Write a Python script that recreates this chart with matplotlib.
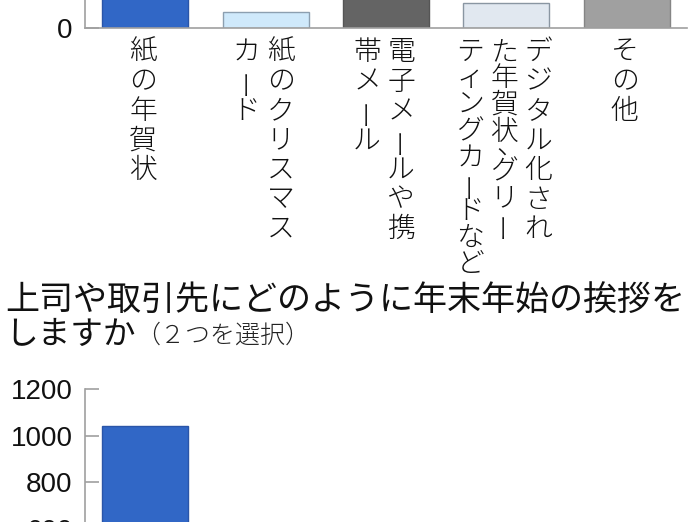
import matplotlib
matplotlib.use('Agg')
import matplotlib.pyplot as plt

plt.rcParams['font.family'] = ['Noto Sans CJK JP', 'DejaVu Sans']

# data
categories = ['紙の年賀状', '紙のクリスマスカード', '電子メールや携帯メール',
              'デジタル化された年賀状、グリーティングカードなど', 'その他']
# vertical label columns (right to left)
label_cols = [['紙の年賀状'],
              ['紙のクリスマス', 'カード'],
              ['電子メールや携', '帯メール'],
              ['デジタル化され', 'た年賀状、グリー', 'ティングカードなど'],
              ['その他']]
top_values = [1100, 70, 650, 108, 250]      # upper chart (only the bottom is visible)
bottom_values = [1040, 40, 520, 90, 150]    # lower chart (only the first bar is visible)
yticks = [0, 200, 400, 600, 800, 1000, 1200]

title2_line1 = '上司や取引先にどのように年末年始の挨拶を'
title2_line2 = 'しますか'
title2_note = '（２つを選択）'

colors = ['#3167c6', '#cfe9fb', '#646464', '#e1e8f0', '#a0a0a0']
edges = ['#2a55a8', '#8c9fb0', '#555555', '#8a96a2', '#858585']

W, H = 696, 522
fig = plt.figure(figsize=(W / 100, H / 100), dpi=100)


def px_box(left, bottom_from_top, width, height):
    # axes box given in pixels measured from the top-left corner
    return [left / W, (H - bottom_from_top) / H, width / W, height / H]


def style_axes(ax):
    for s in ['top', 'right']:
        ax.spines[s].set_visible(False)
    for s in ['left', 'bottom']:
        ax.spines[s].set_color('#a0a0a0')
        ax.spines[s].set_linewidth(1.2)
    ax.set_xlim(-0.5, len(categories) - 0.5)
    ax.set_ylim(0, 1200)
    ax.set_yticks(yticks)
    ax.tick_params(axis='y', direction='in', length=10, width=1.2, color='#a0a0a0',
                   pad=9, labelsize=20, labelcolor='#111111')
    ax.tick_params(axis='x', length=0, labelbottom=False)
    for lbl in ax.get_yticklabels():
        lbl.set_family('Liberation Sans')


def vertical_labels(ax):
    px = 0.72  # points per pixel at dpi 100
    for i, cols in enumerate(label_cols):
        n = len(cols)
        for k, col in enumerate(cols):
            dx = ((n - 1) / 2 - k) * 34 - 2
            pitch = 29.5 if len(col) <= 7 else 26.5
            y = -24
            for ch in col:
                rot = 0
                ox, oy = 0, 0
                step = pitch
                if ch == 'ー':
                    rot = 90
                if ch == '、':
                    # comma sits high and right in vertical writing, takes little room
                    y += pitch - 15
                    ox, oy = 6, 0
                    step = 25
                ax.annotate(ch, xy=(i, 0), xycoords=('data', 'axes fraction'),
                            xytext=((dx + ox) * px, (y + oy) * px), textcoords='offset points',
                            ha='center', va='center', fontsize=20, rotation=rot,
                            fontweight='light', color='#111111', annotation_clip=False)
                y -= step


x = list(range(len(categories)))

# upper chart: its zero line sits near the top of the picture
ax1 = fig.add_axes(px_box(85, 28, 602, 280))
ax1.bar(x, top_values, width=0.715, color=colors, edgecolor=edges, linewidth=1)
style_axes(ax1)
vertical_labels(ax1)

# lower chart: its top sits near the bottom of the picture
ax2 = fig.add_axes(px_box(85, 669, 602, 280))
ax2.bar(x, bottom_values, width=0.715, color=colors, edgecolor=edges, linewidth=1)
style_axes(ax2)

t1 = fig.text(5 / W, (H - 300) / H, title2_line1, fontsize=24.5, va='center', ha='left',
              color='#111111')
t2 = fig.text(5 / W, (H - 335) / H, title2_line2, fontsize=23.5, va='center', ha='left',
              color='#111111')
fig.canvas.draw()
bb = t2.get_window_extent()
fig.text(bb.x1 / W, (H - 335) / H, title2_note, fontsize=18, va='center', ha='left',
         fontweight='light', color='#222222')

fig.savefig('out.png', dpi=100)
